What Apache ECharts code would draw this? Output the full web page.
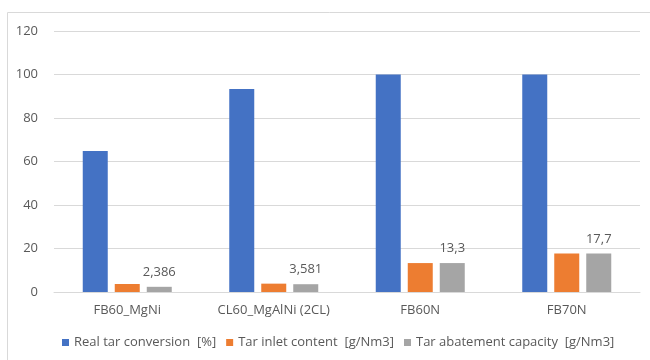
<!DOCTYPE html>
<html>
<head>
<meta charset="utf-8">
<script src="https://cdn.jsdelivr.net/npm/echarts@6/dist/echarts.min.js"></script>
<style>
	html, body { margin: 0; padding: 0; background: #fff; }
	#chart { width: 650px; height: 360px; }
</style>
</head>
<body>
<div id="chart"></div>
<script>
const categories = ["FB60_MgNi", "CL60_MgAlNi (2CL)", "FB60N", "FB70N"];
const realConversion = [64.8, 93.3, 100, 100];
const inletContent = [3.67, 3.84, 13.3, 17.7];
const abatementCapacity = [2.386, 3.581, 13.3, 17.7];
const abatementLabels = ["2,386", "3,581", "13,3", "17,7"];
const yTicks = [0, 120, 20];

const font = "Open Sans";
const textColor = "#595959";

const chart = echarts.init(document.getElementById("chart"));

const option = {
	animation: false,
	textStyle: { fontFamily: font },
	graphic: [{
		type: "rect",
		shape: { x: 7.5, y: 12.5, width: 700, height: 400 },
		style: { fill: "none", stroke: "#d9d9d9", lineWidth: 1 },
		silent: true
	}],
	grid: { left: 54, right: 10, top: 31, bottom: 68 },
	legend: {
		bottom: 6,
		left: 57,
		itemWidth: 7,
		itemHeight: 7,
		itemGap: 10,
		icon: "rect",
		textStyle: { color: textColor, fontSize: 13, fontFamily: font },
		data: ["Real tar conversion  [%]", "Tar inlet content  [g/Nm3]", "Tar abatement capacity  [g/Nm3]"]
	},
	xAxis: {
		type: "category",
		data: categories,
		axisLine: { lineStyle: { color: "#d9d9d9" } },
		axisTick: { show: false },
		axisLabel: { color: textColor, fontSize: 13, margin: 12 }
	},
	yAxis: {
		type: "value",
		min: yTicks[0],
		max: yTicks[1],
		interval: yTicks[2],
		axisLine: { show: false },
		axisTick: { show: false },
		axisLabel: { color: textColor, fontSize: 13, margin: 16 },
		splitLine: { lineStyle: { color: "#d9d9d9" } }
	},
	series: [
		{
			name: "Real tar conversion  [%]",
			type: "bar",
			data: realConversion,
			barWidth: 25,
			barGap: "28%",
			itemStyle: { color: "#4472C4" }
		},
		{
			name: "Tar inlet content  [g/Nm3]",
			type: "bar",
			data: inletContent,
			barWidth: 25,
			barGap: "28%",
			itemStyle: { color: "#ED7D31" }
		},
		{
			name: "Tar abatement capacity  [g/Nm3]",
			type: "bar",
			data: abatementCapacity,
			barWidth: 25,
			barGap: "28%",
			itemStyle: { color: "#A5A5A5" },
			label: {
				show: true,
				position: "top",
				distance: 8,
				color: textColor,
				fontSize: 13,
				formatter: p => abatementLabels[p.dataIndex]
			}
		}
	]
};

chart.setOption(option);
window.onresize = chart.resize;
</script>
</body>
</html>
